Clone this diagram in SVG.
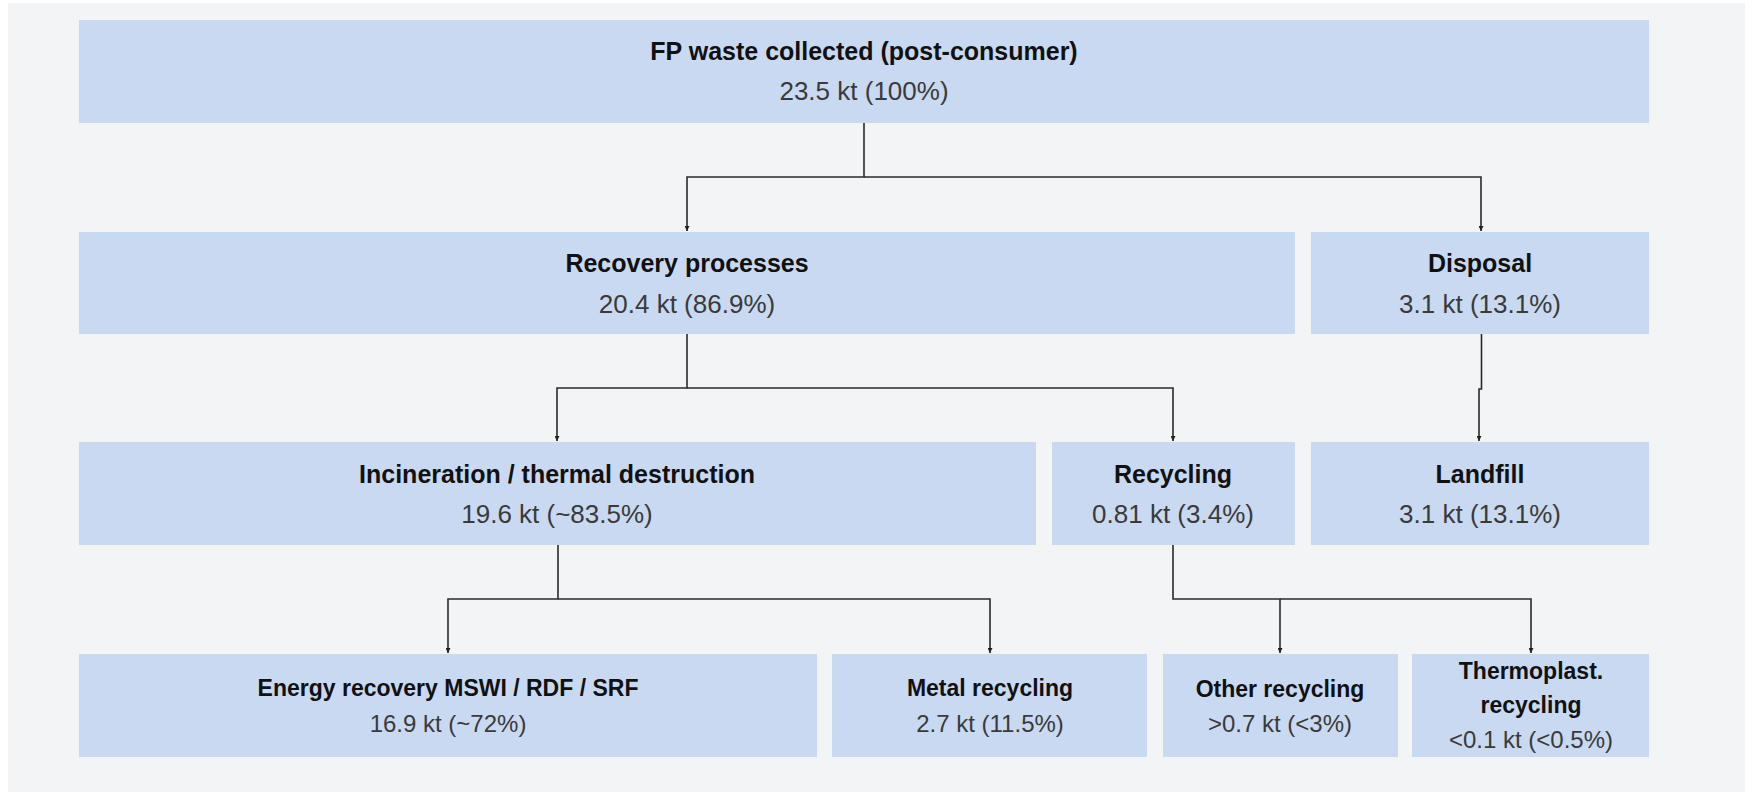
<svg xmlns="http://www.w3.org/2000/svg" width="1764" height="792" viewBox="0 0 1764 792">
<defs>
<style>
.box{fill:#c9d9f1;}
.t{font-family:"Liberation Sans",Arial,sans-serif;font-size:25px;font-weight:bold;fill:#111;text-anchor:middle;}
.v{font-family:"Liberation Sans",Arial,sans-serif;font-size:26px;fill:#3a3a3a;text-anchor:middle;}
.t2{font-family:"Liberation Sans",Arial,sans-serif;font-size:23px;font-weight:bold;fill:#111;text-anchor:middle;}
.v2{font-family:"Liberation Sans",Arial,sans-serif;font-size:24px;fill:#3a3a3a;text-anchor:middle;}
.c{fill:none;stroke:#2a2a2a;stroke-width:1.6;}
</style>
<marker id="ah" viewBox="0 0 10 10" refX="10" refY="5" markerWidth="5" markerHeight="5" markerUnits="userSpaceOnUse" orient="auto">
<path d="M0,0 L10,5 L0,10 z" fill="#222"/>
</marker>
</defs>
<rect x="0" y="0" width="1764" height="792" fill="#ffffff"/>
<rect x="8" y="3" width="1737" height="789" fill="#f3f4f6"/>

<g id="connectors">
<path class="c" d="M864,123 V177 H687 V231" marker-end="url(#ah)"/>
<path class="c" d="M864,177 H1481 V231" marker-end="url(#ah)"/>
<path class="c" d="M687,334 V388 H557 V441" marker-end="url(#ah)"/>
<path class="c" d="M687,388 H1173 V441" marker-end="url(#ah)"/>
<path class="c" d="M1481.5,334 V389 H1479 V441" marker-end="url(#ah)" stroke="#555"/>
<path class="c" d="M558,545 V599 H448 V653" marker-end="url(#ah)"/>
<path class="c" d="M558,599 H990 V653" marker-end="url(#ah)"/>
<path class="c" d="M1173,545 V599 H1280 V653" marker-end="url(#ah)"/>
<path class="c" d="M1280,599 H1531 V653" marker-end="url(#ah)"/>
</g>

<g id="fp-waste">
<rect class="box" x="79" y="20" width="1570" height="103"/>
<text class="t" x="864" y="60">FP waste collected (post-consumer)</text>
<text class="v" x="864" y="100">23.5 kt (100%)</text>
</g>

<g id="recovery">
<rect class="box" x="79" y="232" width="1216" height="102"/>
<text class="t" x="687" y="272">Recovery processes</text>
<text class="v" x="687" y="313">20.4 kt (86.9%)</text>
</g>

<g id="disposal">
<rect class="box" x="1311" y="232" width="338" height="102"/>
<text class="t" x="1480" y="272">Disposal</text>
<text class="v" x="1480" y="313">3.1 kt (13.1%)</text>
</g>

<g id="incineration">
<rect class="box" x="79" y="442" width="957" height="103"/>
<text class="t" x="557" y="483">Incineration / thermal destruction</text>
<text class="v" x="557" y="523">19.6 kt (~83.5%)</text>
</g>

<g id="recycling">
<rect class="box" x="1052" y="442" width="243" height="103"/>
<text class="t" x="1173" y="483">Recycling</text>
<text class="v" x="1173" y="523">0.81 kt (3.4%)</text>
</g>

<g id="landfill">
<rect class="box" x="1311" y="442" width="338" height="103"/>
<text class="t" x="1480" y="483">Landfill</text>
<text class="v" x="1480" y="523">3.1 kt (13.1%)</text>
</g>

<g id="energy-recovery">
<rect class="box" x="79" y="654" width="738" height="103"/>
<text class="t2" x="448" y="696">Energy recovery MSWI / RDF / SRF</text>
<text class="v2" x="448" y="732">16.9 kt (~72%)</text>
</g>

<g id="metal-recycling">
<rect class="box" x="832" y="654" width="315" height="103"/>
<text class="t2" x="990" y="696">Metal recycling</text>
<text class="v2" x="990" y="732">2.7 kt (11.5%)</text>
</g>

<g id="other-recycling">
<rect class="box" x="1163" y="654" width="235" height="103"/>
<text class="t2" x="1280" y="697">Other recycling</text>
<text class="v2" x="1280" y="732">&gt;0.7 kt (&lt;3%)</text>
</g>

<g id="thermoplast-recycling">
<rect class="box" x="1412" y="654" width="237" height="103"/>
<text class="t2" x="1531" y="679">Thermoplast.</text>
<text class="t2" x="1531" y="713">recycling</text>
<text class="v2" x="1531" y="748">&lt;0.1 kt (&lt;0.5%)</text>
</g>
</svg>
